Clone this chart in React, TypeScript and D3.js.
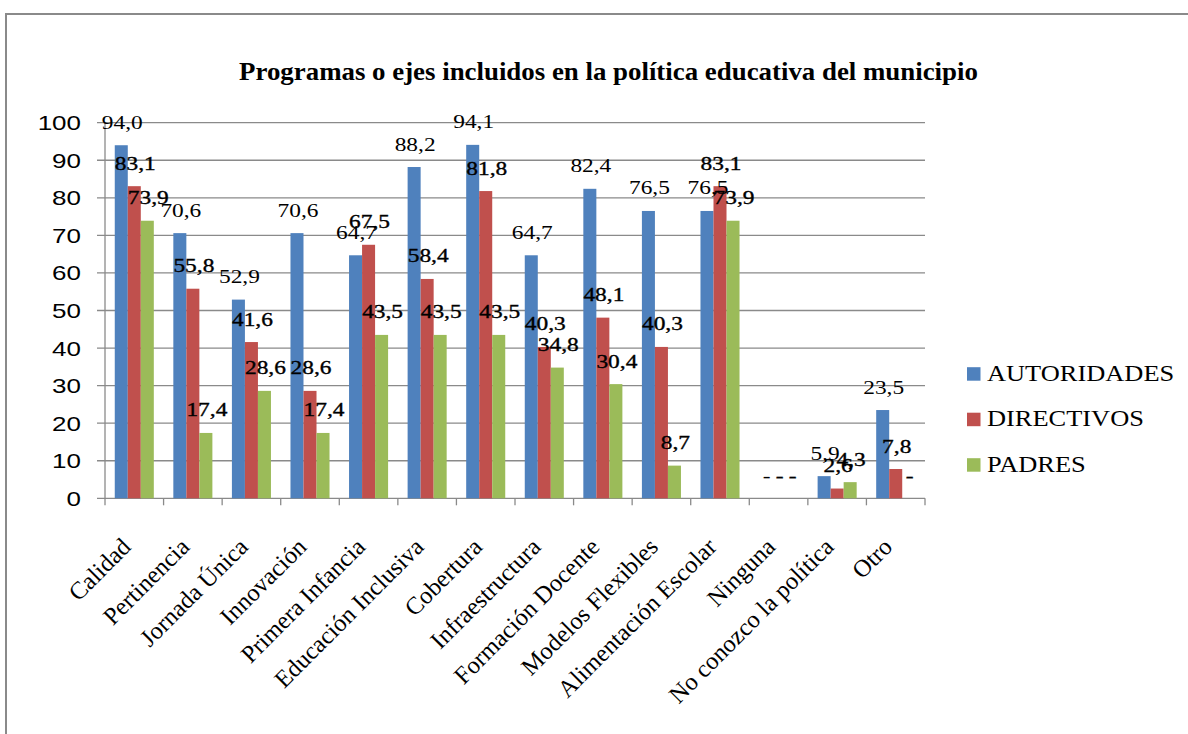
import React from "react";
import * as d3 from "d3";

const categories = [
  "Calidad",
  "Pertinencia",
  "Jornada Única",
  "Innovación",
  "Primera Infancia",
  "Educación Inclusiva",
  "Cobertura",
  "Infraestructura",
  "Formación Docente",
  "Modelos Flexibles",
  "Alimentación Escolar",
  "Ninguna",
  "No conozco la política",
  "Otro",
];

const seriesNames = ["AUTORIDADES", "DIRECTIVOS", "PADRES"];
const seriesColors = ["#4F81BD", "#C0504D", "#9BBB59"];

const autoridades: (number | null)[] = [94.0, 70.6, 52.9, 70.6, 64.7, 88.2, 94.1, 64.7, 82.4, 76.5, 76.5, null, 5.9, 23.5];
const directivos: (number | null)[] = [83.1, 55.8, 41.6, 28.6, 67.5, 58.4, 81.8, 40.3, 48.1, 40.3, 83.1, null, 2.6, 7.8];
const padres: (number | null)[] = [73.9, 17.4, 28.6, 17.4, 43.5, 43.5, 43.5, 34.8, 30.4, 8.7, 73.9, null, 4.3, null];

const yTicks = [0, 10, 20, 30, 40, 50, 60, 70, 80, 90, 100];

const title = "Programas o ejes incluidos en la política educativa del municipio";

const W = 1188;
const H = 734;
const plot = { left: 105, right: 925, top: 122.7, bottom: 498.3 };
const serif = "'Liberation Serif', 'Times New Roman', serif";
const sans = "'Liberation Sans', Arial, sans-serif";
const gridColor = "#8a8a8a";

export default function App() {
  const allSeries = [autoridades, directivos, padres];
  const x = d3.scaleBand<string>().domain(categories).range([plot.left, plot.right]).paddingInner(0).paddingOuter(0);
  const xs = d3.scaleBand<string>().domain(seriesNames).range([0, x.bandwidth()]).paddingInner(0).paddingOuter(0.75);
  const y = d3.scaleLinear().domain([0, 100]).range([plot.bottom, plot.top]);
  const fmt = (v: number | null) => (v === null ? "-" : v.toFixed(1).replace(".", ","));
  const boundaries = d3.range(categories.length + 1).map((i) => plot.left + i * x.step());

  return (
    <svg width={W} height={H} style={{ position: "absolute", left: 0, top: 0, background: "#fff" }}>
      <rect x={0} y={0} width={W} height={H} fill="#fff" />
      <rect x={6} y={14} width={W + 20} height={H + 20} fill="none" stroke="#8a8a8a" strokeWidth={2} />
      <text
        transform={`translate(608.5,80) scale(1.075,1)`}
        textAnchor="middle"
        fontFamily={serif}
        fontWeight="bold"
        fontSize={25}
        fill="#000"
      >
        {title}
      </text>
      {/* gridlines */}
      {yTicks.map((t) => (
        <line key={"g" + t} x1={plot.left - 8} x2={plot.right} y1={y(t)} y2={y(t)} stroke={gridColor} strokeWidth={1.3} />
      ))}
      {/* y axis line */}
      <line x1={plot.left} x2={plot.left} y1={plot.top} y2={plot.bottom} stroke={gridColor} strokeWidth={1.3} />
      {/* x ticks */}
      {boundaries.map((bx, i) => (
        <line key={"xt" + i} x1={bx} x2={bx} y1={plot.bottom} y2={plot.bottom + 7} stroke={gridColor} strokeWidth={1.3} />
      ))}
      {/* y labels */}
      {yTicks.map((t) => (
        <text
          key={"yl" + t}
          transform={`translate(${plot.left - 24},${y(t) + 7.5}) scale(1.3,1)`}
          textAnchor="end"
          fontFamily={sans}
          fontSize={20}
          fill="#000"
        >
          {t}
        </text>
      ))}
      {/* bars */}
      {allSeries.map((s, si) =>
        s.map((v, ci) => {
          const bx = (x(categories[ci]) as number) + (xs(seriesNames[si]) as number);
          const val = v === null ? 0 : v;
          return (
            <rect
              key={`b${si}-${ci}`}
              x={bx}
              y={y(val)}
              width={xs.bandwidth()}
              height={plot.bottom - y(val)}
              fill={seriesColors[si]}
            />
          );
        })
      )}
      {/* data labels */}
      {allSeries.map((s, si) =>
        s.map((v, ci) => {
          const bx = (x(categories[ci]) as number) + (xs(seriesNames[si]) as number) + xs.bandwidth() / 2;
          const val = v === null ? 0 : v;
          return (
            <text
              key={`l${si}-${ci}`}
              transform={`translate(${bx + 1},${y(val) - 16.5}) scale(1.3,1)`}
              textAnchor="middle"
              fontFamily={serif}
              fontSize={18}
              fill="#000"
              stroke={si > 0 ? "#000" : "none"}
              strokeWidth={si > 0 ? 0.35 : 0}
            >
              {fmt(v)}
            </text>
          );
        })
      )}
      {/* x labels */}
      {categories.map((c) => {
        const cx = (x(c) as number) + x.bandwidth() / 2;
        return (
          <text
            key={"xl" + c}
            transform={`translate(${cx - 2},${plot.bottom + 50}) rotate(-45)`}
            textAnchor="end"
            fontFamily={serif}
            fontSize={24.5}
            fill="#000"
          >
            {c}
          </text>
        );
      })}
      {/* legend */}
      {seriesNames.map((n, i) => {
        const by = 380.7 + i * 45.5;
        return (
          <g key={"lg" + n}>
            <rect x={967} y={by - 13.5} width={13.5} height={13.5} fill={seriesColors[i]} />
            <text transform={`translate(987,${by}) scale(1.1,1)`} fontFamily={serif} fontSize={24} fill="#000">
              {n}
            </text>
          </g>
        );
      })}
    </svg>
  );
}
